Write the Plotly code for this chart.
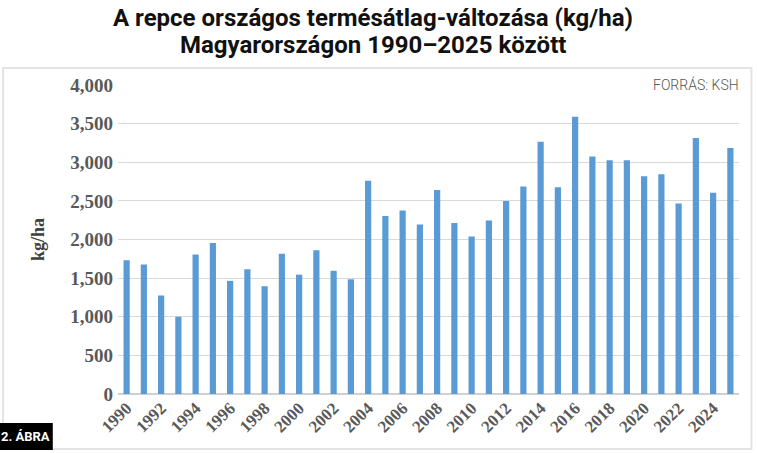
import plotly.graph_objects as go

# rapeseed average yield in Hungary, kg/ha
years = list(range(1990, 2026))
yields = [1730, 1675, 1275, 1000, 1805, 1955, 1465, 1615, 1395, 1815,
          1545, 1860, 1595, 1485, 2760, 2305, 2375, 2195, 2640, 2215,
          2040, 2245, 2500, 2685, 3265, 2675, 3590, 3075, 3025, 3025,
          2820, 2845, 2465, 3315, 2605, 3185]
tick_years = years[::2]
y_ticks = [0, 500, 1000, 1500, 2000, 2500, 3000, 3500, 4000]

title_lines = ["A repce országos termésátlag-változása (kg/ha)",
               "Magyarországon 1990\u20132025 között"]

fig = go.Figure()
fig.add_trace(go.Bar(
    x=years, y=yields,
    marker=dict(color="#5b9bd5", line=dict(width=0)),
    hoverinfo="x+y",
))

serif = "Liberation Serif"

fig.update_layout(
    width=757, height=453,
    margin=dict(l=118, r=18, t=85, b=59),
    paper_bgcolor="white", plot_bgcolor="white",
    bargap=0.64,
    showlegend=False,
    xaxis=dict(
        range=[1989.5, 2025.5],
        tickvals=tick_years,
        ticktext=[str(t) for t in tick_years],
        tickangle=-45,
        tickfont=dict(family=serif, size=17, color="#595959", weight="bold"),
        showgrid=False, showline=False, zeroline=False, ticks="",
        automargin=False,
    ),
    yaxis=dict(
        range=[0, 4000],
        tickvals=y_ticks,
        tickformat=",d",
        tickfont=dict(family=serif, size=19, color="#595959", weight="bold"),
        ticklabelstandoff=4,
        showgrid=True, gridcolor="#d9d9d9", gridwidth=1,
        zeroline=True, zerolinecolor="#d0d0d0", zerolinewidth=1.5,
        showline=False, ticks="",
        automargin=False,
        title=dict(text="kg/ha", standoff=20,
                   font=dict(family=serif, size=18, color="#404040", weight="bold")),
    ),
)

# title, two centred lines (pixel rows ~18 and ~45)
for line, ypos in zip(title_lines, [1 + 67 / 309, 1 + 40 / 309]):
    fig.add_annotation(text=line, xref="paper", yref="paper",
                       x=0.411, y=ypos, xanchor="center", yanchor="middle",
                       showarrow=False,
                       font=dict(family="Roboto", size=24, color="#111111", weight="bold"))

# light frame around the chart body
fig.add_shape(type="rect", xref="paper", yref="paper",
              x0=-0.185, x1=1.02, y0=-0.178, y1=1.055,
              line=dict(color="#e3e3e3", width=2), layer="below")

# source note, top right
fig.add_annotation(text="FORRÁS: KSH", xref="paper", yref="paper",
                   x=1.006, y=1.003, xanchor="right", yanchor="middle",
                   showarrow=False, bgcolor="white", borderpad=3,
                   font=dict(family="Roboto", size=14, color="#555555", weight=300))

# figure tag, bottom left
fig.add_shape(type="rect", xref="paper", yref="paper",
              x0=-0.192, x1=-0.105, y0=-0.181, y1=-0.094,
              fillcolor="black", line=dict(width=0))
fig.add_annotation(text="2. ÁBRA", xref="paper", yref="paper",
                   x=-0.1485, y=-0.1375, xanchor="center", yanchor="middle",
                   showarrow=False,
                   font=dict(family="Roboto", size=13, color="white", weight="bold"))

# drop the default 8px page margin so the figure sits at the window corner
fig.write_html("out.html", config={"displayModeBar": False},
               post_script="document.body.style.margin = '0';")
